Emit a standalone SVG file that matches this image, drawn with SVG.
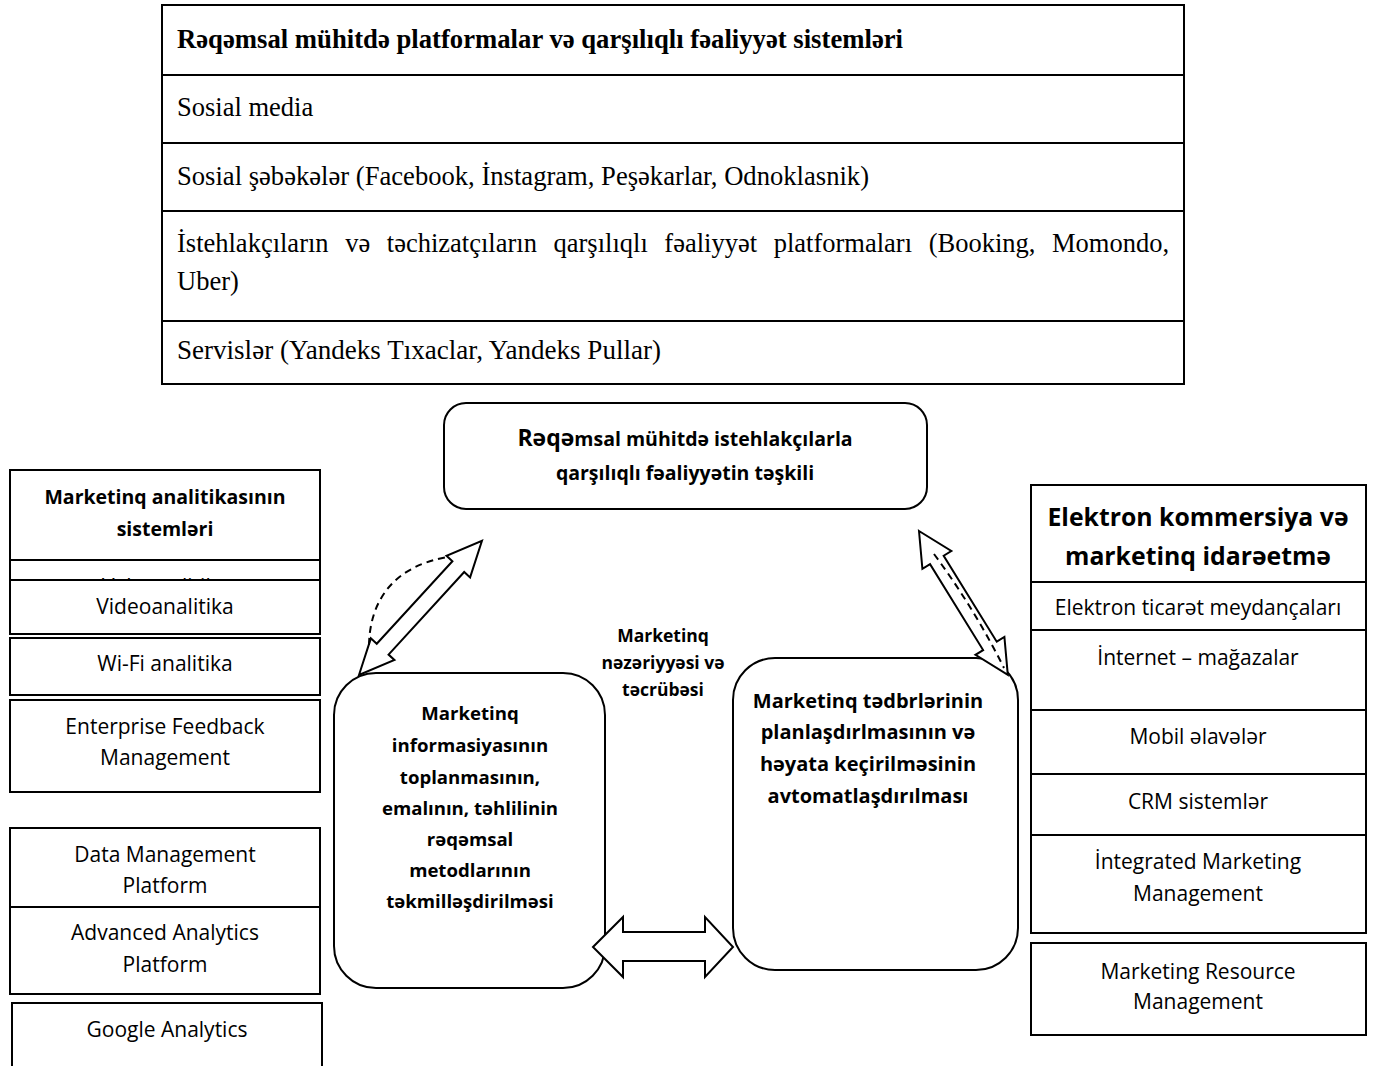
<svg xmlns="http://www.w3.org/2000/svg" width="1373" height="1066" viewBox="0 0 1373 1066">
  <style>
    .box { fill: #fff; stroke: #000; stroke-width: 2; }
    .rbox { fill: #fff; stroke: #000; stroke-width: 2; }
    .serif { font-family: "Liberation Serif", "Times New Roman", serif; font-size: 26.5px; fill: #000; }
    .sans { font-family: "Open Sans", "Noto Sans", sans-serif; fill: #000; text-anchor: middle; }
    .item { font-size: 21px; }
    .bold { font-weight: bold; }
    .arrow { fill: #fff; stroke: #000; stroke-width: 2; stroke-linejoin: miter; }
    .dash { fill: none; stroke: #000; stroke-width: 2; stroke-dasharray: 7 5; }
  </style>
  <defs>
    <clipPath id="clip-web-row">
      <rect x="10" y="560" width="310" height="20"/>
    </clipPath>
  </defs>
  <rect width="1373" height="1066" fill="#fff"/>

  <!-- Platforms table -->
  <g id="platforms-table">
    <rect class="box" x="162" y="5" width="1022" height="379"/>
    <line x1="162" y1="75" x2="1184" y2="75" stroke="#000" stroke-width="2"/>
    <line x1="162" y1="143" x2="1184" y2="143" stroke="#000" stroke-width="2"/>
    <line x1="162" y1="211" x2="1184" y2="211" stroke="#000" stroke-width="2"/>
    <line x1="162" y1="321" x2="1184" y2="321" stroke="#000" stroke-width="2"/>
    <text class="serif bold" x="177" y="48" textLength="726" lengthAdjust="spacingAndGlyphs">Rəqəmsal mühitdə platformalar və qarşılıqlı fəaliyyət sistemləri</text>
    <text class="serif" x="177" y="116">Sosial media</text>
    <text class="serif" x="177" y="185" textLength="692" lengthAdjust="spacingAndGlyphs">Sosial şəbəkələr (Facebook, İnstagram, Peşəkarlar, Odnoklasnik)</text>
    <text class="serif" x="177" y="252" word-spacing="10">İstehlakçıların və təchizatçıların qarşılıqlı fəaliyyət platformaları (Booking, Momondo,</text>
    <text class="serif" x="177" y="290">Uber)</text>
    <text class="serif" x="177" y="359" textLength="484" lengthAdjust="spacingAndGlyphs">Servislər (Yandeks Tıxaclar, Yandeks Pullar)</text>
  </g>

  <!-- Central goal -->
  <g id="node-goal">
    <rect class="rbox" x="444" y="403" width="483" height="106" rx="22"/>
    <text class="sans bold" x="685" y="446" style="font-size:19.5px"><tspan style="font-size:23px">Rəqə</tspan>msal mühitdə istehlakçılarla</text>
    <text class="sans bold" x="685" y="480" style="font-size:19.5px">qarşılıqlı fəaliyyətin təşkili</text>
  </g>

  <!-- Marketing analytics systems -->
  <g id="node-analytics-header">
    <rect class="box" x="10" y="470" width="310" height="90"/>
    <text class="sans bold" x="165" y="504" style="font-size:19.5px">Marketinq analitikasının</text>
    <text class="sans bold" x="165" y="536" style="font-size:19.5px">sistemləri</text>
  </g>
  <g id="node-web-analytics">
    <rect class="box" x="10" y="560" width="310" height="20"/>
    <text class="sans item" x="165" y="594" clip-path="url(#clip-web-row)">Veb-analitika</text>
  </g>
  <g id="node-video-analytics">
    <rect class="box" x="10" y="580" width="310" height="54"/>
    <text class="sans item" x="165" y="614">Videoanalitika</text>
  </g>
  <g id="node-wifi-analytics">
    <rect class="box" x="10" y="638" width="310" height="57"/>
    <text class="sans item" x="165" y="671">Wi-Fi analitika</text>
  </g>
  <g id="node-efm">
    <rect class="box" x="10" y="700" width="310" height="92"/>
    <text class="sans item" x="165" y="734">Enterprise Feedback</text>
    <text class="sans item" x="165" y="765">Management</text>
  </g>
  <g id="node-dmp">
    <rect class="box" x="10" y="828" width="310" height="79"/>
    <text class="sans item" x="165" y="862">Data Management</text>
    <text class="sans item" x="165" y="893">Platform</text>
  </g>
  <g id="node-aap">
    <rect class="box" x="10" y="907" width="310" height="87"/>
    <text class="sans item" x="165" y="940">Advanced Analytics</text>
    <text class="sans item" x="165" y="972">Platform</text>
  </g>
  <g id="node-google-analytics">
    <path class="box" d="M12 1068 V1003 H322 V1068"/>
    <text class="sans item" x="167" y="1037">Google Analytics</text>
  </g>

  <!-- E-commerce and marketing management -->
  <g id="node-ecommerce-header">
    <rect class="box" x="1031" y="485" width="335" height="97"/>
    <text class="sans bold" x="1198" y="526" style="font-size:24.8px">Elektron kommersiya və</text>
    <text class="sans bold" x="1198" y="565" style="font-size:24.8px">marketinq idarəetmə</text>
  </g>
  <g id="node-marketplaces">
    <rect class="box" x="1031" y="582" width="335" height="48"/>
    <text class="sans item" x="1198" y="615">Elektron ticarət meydançaları</text>
  </g>
  <g id="node-online-stores">
    <rect class="box" x="1031" y="630" width="335" height="80"/>
    <text class="sans item" x="1198" y="665">İnternet – mağazalar</text>
  </g>
  <g id="node-mobile-apps">
    <rect class="box" x="1031" y="710" width="335" height="64"/>
    <text class="sans item" x="1198" y="744">Mobil əlavələr</text>
  </g>
  <g id="node-crm">
    <rect class="box" x="1031" y="774" width="335" height="61"/>
    <text class="sans item" x="1198" y="809">CRM sistemlər</text>
  </g>
  <g id="node-imm">
    <rect class="box" x="1031" y="835" width="335" height="98"/>
    <text class="sans item" x="1198" y="869">İntegrated Marketing</text>
    <text class="sans item" x="1198" y="901">Management</text>
  </g>
  <g id="node-mrm">
    <rect class="box" x="1031" y="943" width="335" height="92"/>
    <text class="sans item" x="1198" y="979">Marketing Resource</text>
    <text class="sans item" x="1198" y="1009">Management</text>
  </g>

  <!-- Core process nodes -->
  <g id="node-information">
    <rect class="rbox" x="334" y="673" width="271" height="315" rx="42"/>
    <g class="sans bold" style="font-size:18.6px">
      <text x="470" y="720">Marketinq</text>
      <text x="470" y="752">informasiyasının</text>
      <text x="470" y="784">toplanmasının,</text>
      <text x="470" y="815">emalının, təhlilinin</text>
      <text x="470" y="846">rəqəmsal</text>
      <text x="470" y="877">metodlarının</text>
      <text x="470" y="908">təkmilləşdirilməsi</text>
    </g>
  </g>
  <g id="node-automation">
    <rect class="rbox" x="733" y="658" width="285" height="312" rx="42"/>
    <g class="sans bold" style="font-size:20px">
      <text x="868" y="708">Marketinq tədbrlərinin</text>
      <text x="868" y="739">planlaşdırlmasının və</text>
      <text x="868" y="771">həyata keçirilməsinin</text>
      <text x="868" y="803">avtomatlaşdırılması</text>
    </g>
  </g>
  <g id="node-theory">
    <g class="sans bold" style="font-size:17.5px">
      <text x="663" y="642">Marketinq</text>
      <text x="663" y="669">nəzəriyyəsi və</text>
      <text x="663" y="696">təcrübəsi</text>
    </g>
  </g>

  <!-- Connectors -->
  <g id="connectors">
    <!-- double block arrow: information ↔ goal -->
    <polygon class="arrow" transform="translate(359,675) rotate(-47.5)"
      points="0,0 35,-16 35,-8 147,-8 147,-16 182,0 147,16 147,8 35,8 35,16"/>
    <path class="dash" d="M369 645 C370 600 394 566 448 557"/>
    <!-- double block arrow: goal ↔ automation -->
    <polygon class="arrow" transform="translate(919,531) rotate(58.3)"
      points="0,0 34,-17 34,-8 135,-8 135,-17 169,0 135,17 135,8 34,8 34,17"/>
    <path class="dash" d="M934 554 Q974 608 1004 668"/>
    <!-- double block arrow: information ↔ automation -->
    <polygon class="arrow"
      points="593,947 623,917 623,932 705,932 705,917 733,947 705,977 705,961 623,961 623,977"/>
  </g>
</svg>
